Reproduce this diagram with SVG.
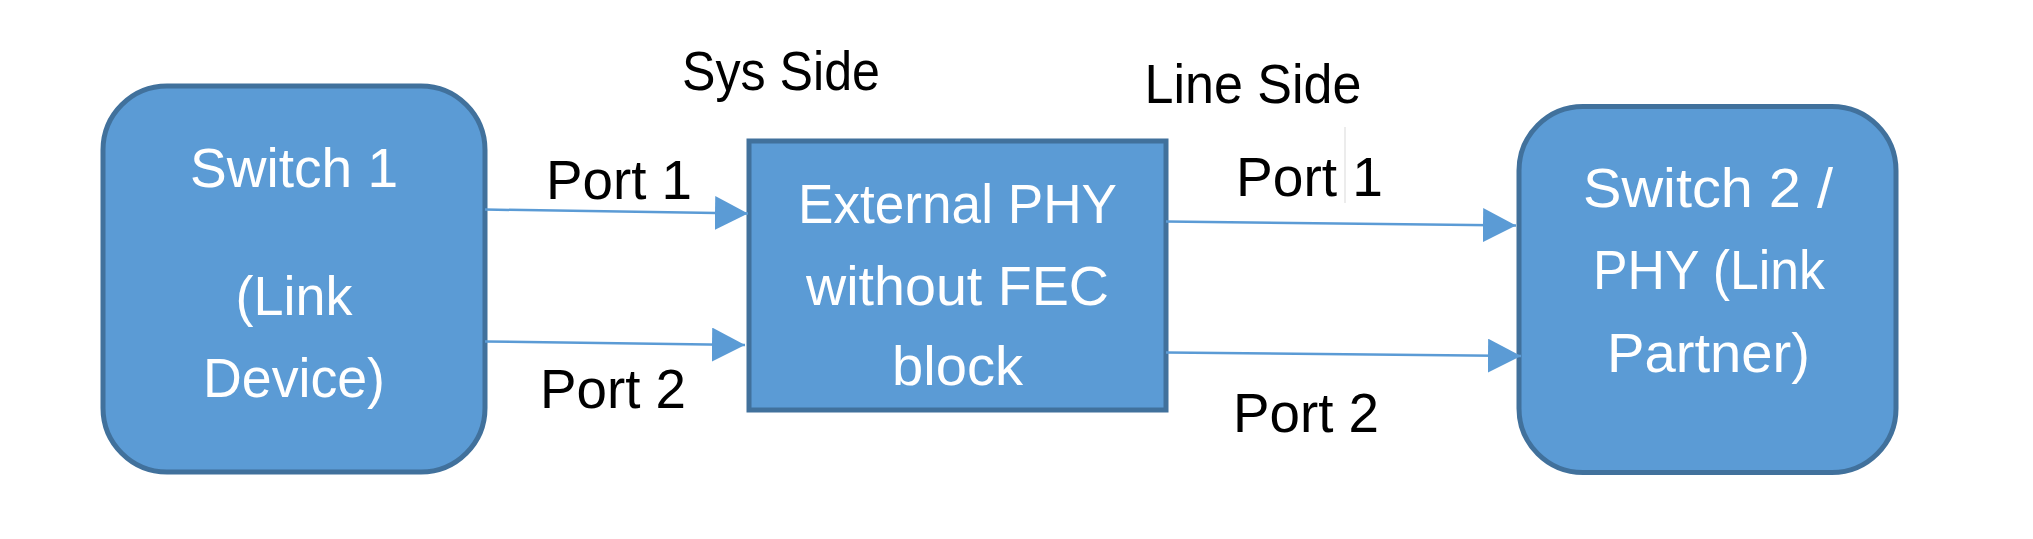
<svg xmlns="http://www.w3.org/2000/svg" width="2033" height="539" viewBox="0 0 2033 539">
<style>
.box{fill:#5B9BD5;stroke:#41719C;stroke-width:5}
.wt{fill:#FFFFFF;font-family:"Liberation Sans",Arial,sans-serif;font-size:55px;text-anchor:middle}
.bt{fill:#000000;font-family:"Liberation Sans",Arial,sans-serif;font-size:55px;text-anchor:middle}
.conn{stroke:#5B9BD5;stroke-width:2.5;fill:none;marker-end:url(#arr)}
</style>
<defs>
<marker id="arr" markerUnits="userSpaceOnUse" markerWidth="33" markerHeight="34" refX="33" refY="17" orient="auto" viewBox="0 0 33 34">
<path d="M0,0 L33,17 L0,34 Z" fill="#5B9BD5"/>
</marker>
</defs>
<rect width="2033" height="539" fill="#FFFFFF"/>
<g id="switch1">
<rect class="box" x="103" y="86" width="382" height="386" rx="64" ry="64"/>
<text class="wt" x="294" y="187" textLength="208" lengthAdjust="spacingAndGlyphs">Switch 1</text>
<text class="wt" x="294" y="315" textLength="117" lengthAdjust="spacingAndGlyphs">(Link</text>
<text class="wt" x="294" y="397" textLength="182" lengthAdjust="spacingAndGlyphs">Device)</text>
</g>
<g id="phy">
<rect class="box" x="749" y="141" width="417" height="269"/>
<text class="wt" x="957.5" y="223" textLength="319" lengthAdjust="spacingAndGlyphs">External PHY</text>
<text class="wt" x="957.5" y="305" textLength="303" lengthAdjust="spacingAndGlyphs">without FEC</text>
<text class="wt" x="957.5" y="385" textLength="131" lengthAdjust="spacingAndGlyphs">block</text>
</g>
<g id="switch2">
<rect class="box" x="1519" y="106.5" width="377" height="366" rx="64" ry="64"/>
<text class="wt" x="1708" y="207" textLength="250" lengthAdjust="spacingAndGlyphs">Switch 2 /</text>
<text class="wt" x="1709" y="289" textLength="232" lengthAdjust="spacingAndGlyphs">PHY (Link</text>
<text class="wt" x="1708.5" y="372" textLength="203" lengthAdjust="spacingAndGlyphs">Partner)</text>
</g>
<g id="labels">
<text class="bt" x="781" y="90" textLength="198" lengthAdjust="spacingAndGlyphs">Sys Side</text>
<text class="bt" x="1253" y="103" textLength="217" lengthAdjust="spacingAndGlyphs">Line Side</text>
<text class="bt" x="619" y="199" textLength="146" lengthAdjust="spacingAndGlyphs">Port 1</text>
<text class="bt" x="613" y="408" textLength="146" lengthAdjust="spacingAndGlyphs">Port 2</text>
<text class="bt" x="1309.5" y="196" textLength="147" lengthAdjust="spacingAndGlyphs">Port 1</text>
<text class="bt" x="1306" y="432" textLength="146" lengthAdjust="spacingAndGlyphs">Port 2</text>
<line x1="1345" y1="127" x2="1345" y2="203" stroke="#D9D9D9" stroke-width="1"/>
</g>
<g id="connectors">
<line class="conn" x1="485" y1="209.5" x2="748" y2="213.5"/>
<line class="conn" x1="485" y1="341.5" x2="745" y2="345"/>
<line class="conn" x1="1166" y1="221.5" x2="1516" y2="225.5"/>
<line class="conn" x1="1166" y1="352.5" x2="1521" y2="356"/>
</g>
</svg>
